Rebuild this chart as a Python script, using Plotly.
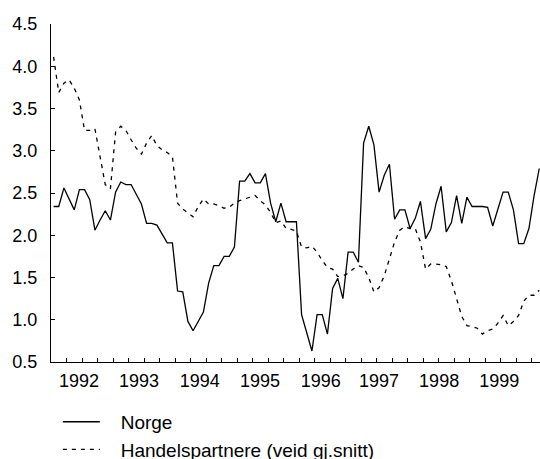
import plotly.graph_objects as go

norge = [2.34, 2.34, 2.56, 2.43, 2.30, 2.54, 2.54, 2.42, 2.06, 2.18, 2.29, 2.18,
         2.51, 2.63, 2.60, 2.60, 2.49, 2.37, 2.14, 2.14, 2.12, 2.01, 1.91, 1.91,
         1.34, 1.33, 0.98, 0.87, 0.98, 1.09, 1.43, 1.64, 1.64, 1.75, 1.75, 1.86,
         2.64, 2.64, 2.73, 2.62, 2.62, 2.73, 2.38, 2.16, 2.38, 2.16, 2.16, 2.16,
         1.06, 0.85, 0.63, 1.06, 1.06, 0.83, 1.37, 1.49, 1.25, 1.80, 1.80, 1.68,
         3.09, 3.29, 3.07, 2.51, 2.71, 2.84, 2.19, 2.30, 2.30, 2.08, 2.20, 2.40,
         1.96, 2.07, 2.37, 2.58, 2.04, 2.15, 2.47, 2.14, 2.45, 2.34, 2.34, 2.34,
         2.33, 2.11, 2.31, 2.51, 2.51, 2.30, 1.90, 1.90, 2.08, 2.47, 2.79]

handel = [4.11, 3.69, 3.80, 3.84, 3.74, 3.60, 3.24, 3.24, 3.26, 2.93, 2.60, 2.55,
          3.22, 3.29, 3.24, 3.13, 3.03, 2.96, 3.09, 3.18, 3.06, 3.01, 2.98, 2.93,
          2.38, 2.31, 2.26, 2.22, 2.34, 2.43, 2.37, 2.37, 2.35, 2.32, 2.33, 2.38,
          2.41, 2.43, 2.45, 2.47, 2.41, 2.36, 2.27, 2.15, 2.17, 2.08, 2.07, 2.05,
          1.86, 1.85, 1.87, 1.80, 1.70, 1.62, 1.60, 1.51, 1.52, 1.55, 1.60, 1.64,
          1.62, 1.50, 1.33, 1.38, 1.52, 1.72, 1.92, 2.06, 2.10, 2.08, 2.08, 1.92,
          1.60, 1.66, 1.66, 1.65, 1.63, 1.46, 1.26, 1.04, 0.93, 0.92, 0.90, 0.83,
          0.87, 0.89, 0.96, 1.05, 0.93, 0.98, 1.05, 1.22, 1.29, 1.29, 1.35]

start_year = 1992
year_ticks = [1993, 1994, 1995, 1996, 1997, 1998, 1999]
year_labels = ["1992", "1993", "1994", "1995", "1996", "1997", "1998", "1999"]
label_pos = [1992.45, 1993.42, 1994.40, 1995.37, 1996.35, 1997.29, 1998.26, 1999.23]
x_range = [1992.0, 1999.887]

x = [start_year + (i + 0.5) / 12 for i in range(len(norge))]

font_family = "Liberation Sans, Arial, sans-serif"
pad = "\u00a0\u00a0\u00a0"

fig = go.Figure()
fig.add_trace(go.Scatter(x=x, y=norge, mode="lines", name=pad + "Norge",
                         line=dict(color="black", width=1.3)))
fig.add_trace(go.Scatter(x=x, y=handel, mode="lines",
                         name=pad + "Handelspartnere (veid gj.snitt)",
                         line=dict(color="black", width=1.3, dash="4px,5px")))
# invisible trace that carries the year-label axis
fig.add_trace(go.Scatter(x=x_range, y=[None, None], xaxis="x2", showlegend=False,
                         hoverinfo="skip"))

fig.update_layout(
    width=540, height=459,
    margin=dict(l=51, r=0, t=24, b=97, autoexpand=False),
    paper_bgcolor="white", plot_bgcolor="white",
    font=dict(family=font_family, size=18, color="black"),
    showlegend=True,
    legend=dict(x=0.014, y=-0.121, xanchor="left", yanchor="top",
                font=dict(size=19, color="black"), itemwidth=37,
                bgcolor="rgba(0,0,0,0)", tracegroupgap=0),
    xaxis=dict(range=x_range, showgrid=False, zeroline=False, automargin=False,
               showline=True, linecolor="black", linewidth=1,
               tickmode="array", tickvals=year_ticks, ticktext=[""] * len(year_ticks),
               ticks="inside", ticklen=9, tickcolor="black", tickwidth=1,
               showticklabels=False,
               minor=dict(ticks="inside", ticklen=4, dtick=0.25, tick0=1992,
                          tickcolor="black", tickwidth=1, showgrid=False)),
    xaxis2=dict(range=x_range, overlaying="x", side="bottom", anchor="y",
                showgrid=False, zeroline=False, showline=False, automargin=False,
                tickmode="array", tickvals=label_pos, ticktext=year_labels,
                ticks="", tickfont=dict(size=18, color="black"),
                ticklabelstandoff=6),
    yaxis=dict(range=[0.5, 4.5], showgrid=False, zeroline=False, automargin=False,
               showline=True, linecolor="black", linewidth=1,
               tickmode="linear", tick0=0.5, dtick=0.5, tickformat=".1f",
               ticks="inside", ticklen=4, tickcolor="black", tickwidth=1,
               tickfont=dict(size=18, color="black"), ticklabelstandoff=9),
)

fig.write_html(
    "out.html",
    config={"displayModeBar": False, "staticPlot": True},
    post_script="document.body.style.margin='0px';document.body.style.overflow='hidden';",
)
